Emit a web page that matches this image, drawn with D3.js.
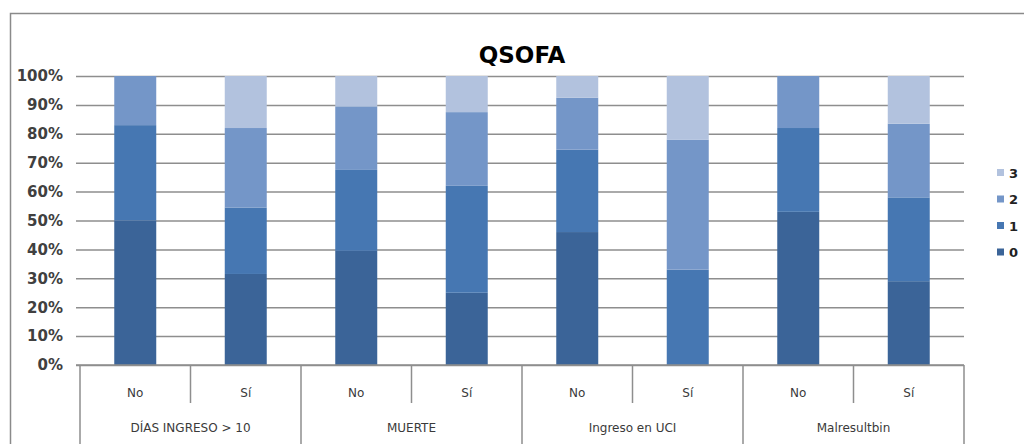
<!DOCTYPE html>
<html>
<head>
<meta charset="utf-8">
<script src="https://cdn.jsdelivr.net/npm/d3@7"></script>
<style>
  html, body { margin: 0; padding: 0; background: #fff; }
  svg { display: block; }
</style>
</head>
<body>
<svg id="chart" width="1024" height="444"></svg>
<script>
// QSOFA score distribution (%) by outcome group
const groups = ["DÍAS INGRESO > 10", "MUERTE", "Ingreso en UCI", "Malresultbin"];
const answers = ["No", "Sí"];
const seriesKeys = ["0", "1", "2", "3"];
const score0 = [50, 31.5, 39.5, 25, 46, 0, 53, 29];
const score1 = [33, 23, 28, 37, 28.5, 33, 29, 29];
const score2 = [17, 27.5, 22, 25.5, 18, 45, 18, 25.5];
const score3 = [0, 18, 10.5, 12.5, 7.5, 22, 0, 16.5];
const yTicks = [0, 10, 20, 30, 40, 50, 60, 70, 80, 90, 100];
const colors = ["#3b6498", "#4677b2", "#7496c8", "#b2c2de"];

// one row per bar, built from the arrays above
const rows = [];
groups.forEach((g, gi) => answers.forEach((a, ai) => {
  const i = gi * answers.length + ai;
  rows.push({ id: i, group: g, answer: a, "0": score0[i], "1": score1[i], "2": score2[i], "3": score3[i] });
}));

const svg = d3.select("#chart");
const grid = "#8e8e8e";
const plotLeft = 80, plotRight = 964, plotTop = 76, plotBottom = 365;

// chart frame
svg.append("rect").attr("x", 10.5).attr("y", 13.5).attr("width", 1030).attr("height", 460)
  .attr("fill", "none").attr("stroke", "#8a8a8a").attr("stroke-width", 1.5);

const x = d3.scaleBand().domain(rows.map(d => d.id)).range([plotLeft, plotRight])
  .paddingInner(0.62).paddingOuter(0.31);
const y = d3.scaleLinear().domain([0, 100]).range([plotBottom, plotTop]);

// horizontal gridlines + y axis
const yAxis = d3.axisLeft(y).tickValues(yTicks).tickFormat(d => d + "%")
  .tickSize(-(plotRight - plotLeft)).tickPadding(17);
const ya = svg.append("g").attr("transform", `translate(${plotLeft},0)`).call(yAxis);
ya.select(".domain").remove();
ya.selectAll(".tick line").attr("x1", -4).attr("stroke", grid).attr("stroke-width", 1.5);
ya.selectAll(".tick text").attr("fill", "#404040")
  .style("font-family", "DejaVu Sans").style("font-size", "15px").style("font-weight", "bold");

// stacked bars
const stacked = d3.stack().keys(seriesKeys)(rows);
svg.append("g").selectAll("g").data(stacked).join("g")
  .attr("fill", (d, i) => colors[i])
  .selectAll("rect").data(d => d).join("rect")
  .attr("x", d => x(d.data.id))
  .attr("width", x.bandwidth())
  .attr("y", d => y(d[1]))
  .attr("height", d => y(d[0]) - y(d[1]));

// category axis: baseline, separators and two label rows
const axisG = svg.append("g");
axisG.append("line").attr("x1", plotLeft - 4).attr("x2", plotRight).attr("y1", plotBottom).attr("y2", plotBottom)
  .attr("stroke", grid).attr("stroke-width", 1.5);
const step = x.step();
const edge = id => x(id) - (step - x.bandwidth()) / 2;
const seps = [];
rows.forEach(r => seps.push({ pos: edge(r.id), full: r.id % answers.length === 0 }));
seps.push({ pos: edge(rows.length - 1) + step, full: true });
axisG.selectAll("line.sep").data(seps).join("line").attr("class", "sep")
  .attr("x1", d => d.pos).attr("x2", d => d.pos)
  .attr("y1", plotBottom).attr("y2", d => d.full ? 444 : 403)
  .attr("stroke", grid).attr("stroke-width", 1.5);

axisG.selectAll("text.ans").data(rows).join("text").attr("class", "ans")
  .attr("x", d => x(d.id) + x.bandwidth() / 2).attr("y", 397)
  .attr("text-anchor", "middle").attr("fill", "#3a3a3a")
  .style("font-family", "DejaVu Sans").style("font-size", "12px")
  .text(d => d.answer);

axisG.selectAll("text.grp").data(groups).join("text").attr("class", "grp")
  .attr("x", (g, gi) => (edge(gi * 2) + edge(gi * 2 + 1) + step) / 2).attr("y", 432)
  .attr("text-anchor", "middle").attr("fill", "#3a3a3a")
  .style("font-family", "DejaVu Sans").style("font-size", "12px")
  .text(d => d);

// title
svg.append("text").attr("x", (plotLeft + plotRight) / 2).attr("y", 63).attr("text-anchor", "middle")
  .style("font-family", "DejaVu Sans").style("font-size", "23px").style("font-weight", "bold")
  .attr("fill", "#000").text("QSOFA");

// legend, top entry is the highest score
const legend = svg.append("g").selectAll("g").data(seriesKeys.slice().reverse()).join("g")
  .attr("transform", (d, i) => `translate(997,${173 + i * 26.5})`);
legend.append("rect").attr("x", 0).attr("y", -4).attr("width", 7).attr("height", 7)
  .attr("fill", d => colors[seriesKeys.indexOf(d)]);
legend.append("text").attr("x", 12).attr("y", 0).attr("dy", "0.35em")
  .attr("fill", "#222").style("font-family", "DejaVu Sans").style("font-size", "13px")
  .style("font-weight", "bold").text(d => d);
</script>
</body>
</html>
